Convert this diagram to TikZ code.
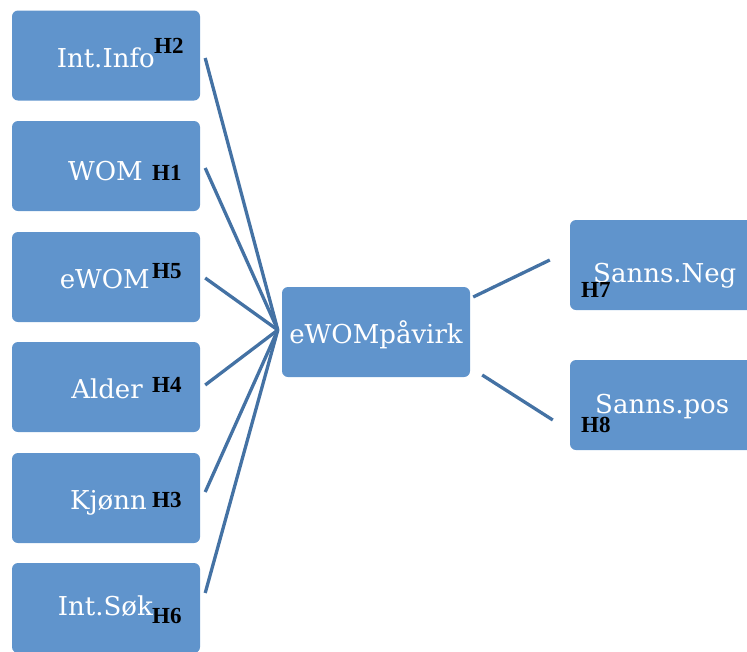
\documentclass[tikz,border=0pt]{standalone}
\usepackage{fontspec}
\setmainfont{DejaVu Serif}
\newfontfamily\hfont{Liberation Serif}
\usetikzlibrary{calc}
\definecolor{boxblue}{RGB}{96,148,204}
\definecolor{lineblue}{RGB}{68,114,164}
\tikzset{
  box/.style={fill=boxblue, rounded corners=6pt, minimum width=188pt, minimum height=90pt, inner sep=0pt, draw=none},
  lbl/.style={text=white, font=\fontsize{26}{30}\selectfont, inner sep=0pt},
  hyp/.style={text=black, font=\hfont\bfseries\fontsize{23}{25}\selectfont, inner sep=0pt},
  link/.style={draw=lineblue, line width=3.3pt}
}
\begin{document}
\begin{tikzpicture}[x=1pt,y=-1pt]
\useasboundingbox (0,0) rectangle (747,651);
\clip (0,0) rectangle (747,651);
% boxes
\node[box] (b1) at (106,55.5) {};
\node[box] (b2) at (106,166) {};
\node[box] (b3) at (106,277) {};
\node[box] (b4) at (106,387) {};
\node[box] (b5) at (106,498) {};
\node[box] (b6) at (106,608) {};
\node[box] (c) at (376,332) {};
\node[box, minimum width=190pt] (r1) at (665,265) {};
\node[box, minimum width=190pt] (r2) at (665,405) {};
% labels
\node[lbl, anchor=base east] (t1) at (155,67) {Int.Info};
\node[lbl, anchor=base east] (t2) at (143,180) {WOM};
\node[lbl, anchor=base east] (t3) at (150,288) {eWOM};
\node[lbl, anchor=base east] (t4) at (143,398) {Alder};
\node[lbl, anchor=base east] (t5) at (147,509) {Kjønn};
\node[lbl, anchor=base east] (t6) at (153,615) {Int.Søk};
\node[lbl, anchor=base] (tc) at (376,343) {eWOMpåvirk};
\node[lbl, anchor=base west] (tr1) at (593,282) {Sanns.Neg};
\node[lbl, anchor=base west] (tr2) at (595,413) {Sanns.pos};
% hypotheses
\node[hyp, anchor=base west] (h2) at (154,53) {H2};
\node[hyp, anchor=base west] (h1) at (152,180) {H1};
\node[hyp, anchor=base west] (h5) at (152,278) {H5};
\node[hyp, anchor=base west] (h4) at (152,392) {H4};
\node[hyp, anchor=base west] (h3) at (152,507) {H3};
\node[hyp, anchor=base west] (h6) at (152,623) {H6};
\node[hyp, anchor=base west] (h7) at (581,297) {H7};
\node[hyp, anchor=base west] (h8) at (581,432) {H8};
% connectors
\coordinate (hub) at ($(c.west)+(-4,-2)$);
\draw[link] ($(b1.east)+(5,2.5)$) -- (hub);
\draw[link] ($(b2.east)+(5,2)$) -- (hub);
\draw[link] ($(b3.east)+(5,1)$) -- (hub);
\draw[link] ($(b4.east)+(5,-2)$) -- (hub);
\draw[link] ($(b5.east)+(5,-6)$) -- (hub);
\draw[link] ($(b6.east)+(5,-15)$) -- (hub);
\draw[link] ($(c.east)+(3,-35)$) -- ($(r1.west)+(-20,-5)$);
\draw[link] ($(c.east)+(12,43)$) -- ($(r2.west)+(-17,15)$);
\end{tikzpicture}
\end{document}
